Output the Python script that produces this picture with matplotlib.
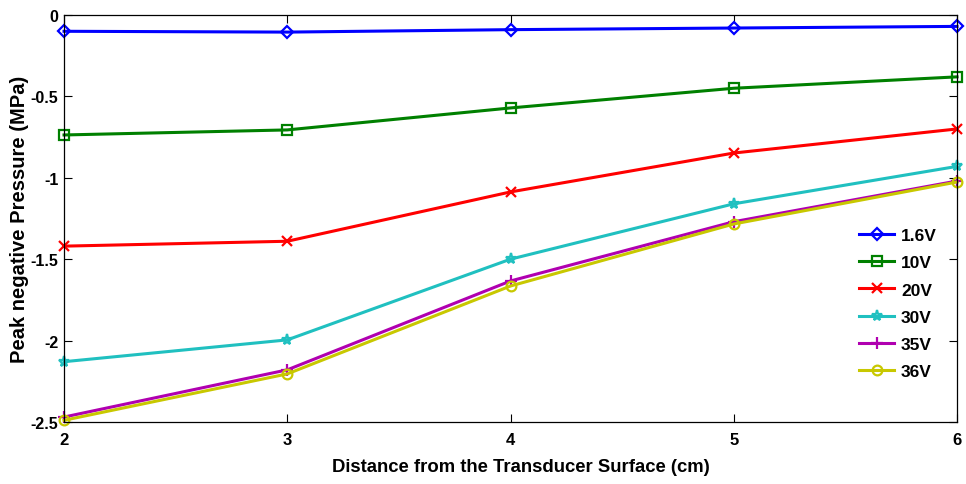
import matplotlib
matplotlib.use('Agg')
import matplotlib.pyplot as plt

distance = [2, 3, 4, 5, 6]
v1_6 = [-0.10, -0.105, -0.09, -0.08, -0.07]
v10 = [-0.737, -0.706, -0.571, -0.45, -0.38]
v20 = [-1.42, -1.39, -1.087, -0.848, -0.70]
v30 = [-2.13, -1.996, -1.50, -1.16, -0.93]
v35 = [-2.47, -2.18, -1.634, -1.27, -1.02]
v36 = [-2.49, -2.205, -1.665, -1.284, -1.026]
labels = ['1.6V', '10V', '20V', '30V', '35V', '36V']

plt.rcParams['font.family'] = ['Liberation Sans', 'DejaVu Sans']
plt.rcParams['font.weight'] = 'bold'

fig = plt.figure(figsize=(9.66, 4.85), dpi=100)
ax = fig.add_axes([0.0663, 0.128, 0.9244, 0.839])

styles = [
    ('#0000ff', 'D', 6.5),
    ('#008000', 's', 6.5),
    ('#ff0000', 'x', 6.5),
    ('#20c0c0', '*', 8),
    ('#b000b0', '+', 9),
    ('#c8c800', 'o', 7),
]
for ys, lab, (c, m, ms) in zip([v1_6, v10, v20, v30, v35, v36], labels, styles):
    ax.plot(distance, ys, color=c, marker=m, markersize=ms, markerfacecolor='none',
            markeredgewidth=1.6, linewidth=2.2, label=lab, clip_on=False)

ax.set_xlim(2, 6)
ax.set_ylim(-2.5, 0)
ax.set_xticks([2, 3, 4, 5, 6])
ax.set_yticks([-2.5, -2, -1.5, -1, -0.5, 0])
ax.set_yticklabels(['-2.5', '-2', '-1.5', '-1', '-0.5', '0'])
ax.tick_params(direction='in', top=True, right=True, labelsize=12, length=6)
ax.tick_params(axis='x', pad=7)
ax.tick_params(axis='y', pad=4, labelsize=11.5)
for s in ax.spines.values():
    s.set_linewidth(0.9)

ax.set_xlabel('Distance from the Transducer Surface (cm)', fontsize=13.3, fontweight='bold')
ax.set_ylabel('Peak negative Pressure (MPa)', fontsize=14.5, fontweight='bold')
ax.xaxis.set_label_coords(0.512, -0.088)
ax.yaxis.set_label_coords(-0.039, 0.5)

leg = ax.legend(loc='lower right', bbox_to_anchor=(0.995, 0.066), frameon=False, fontsize=12.5,
                handlelength=2.0, labelspacing=0.7, handletextpad=0.4)

fig.savefig('out.png', dpi=100)
